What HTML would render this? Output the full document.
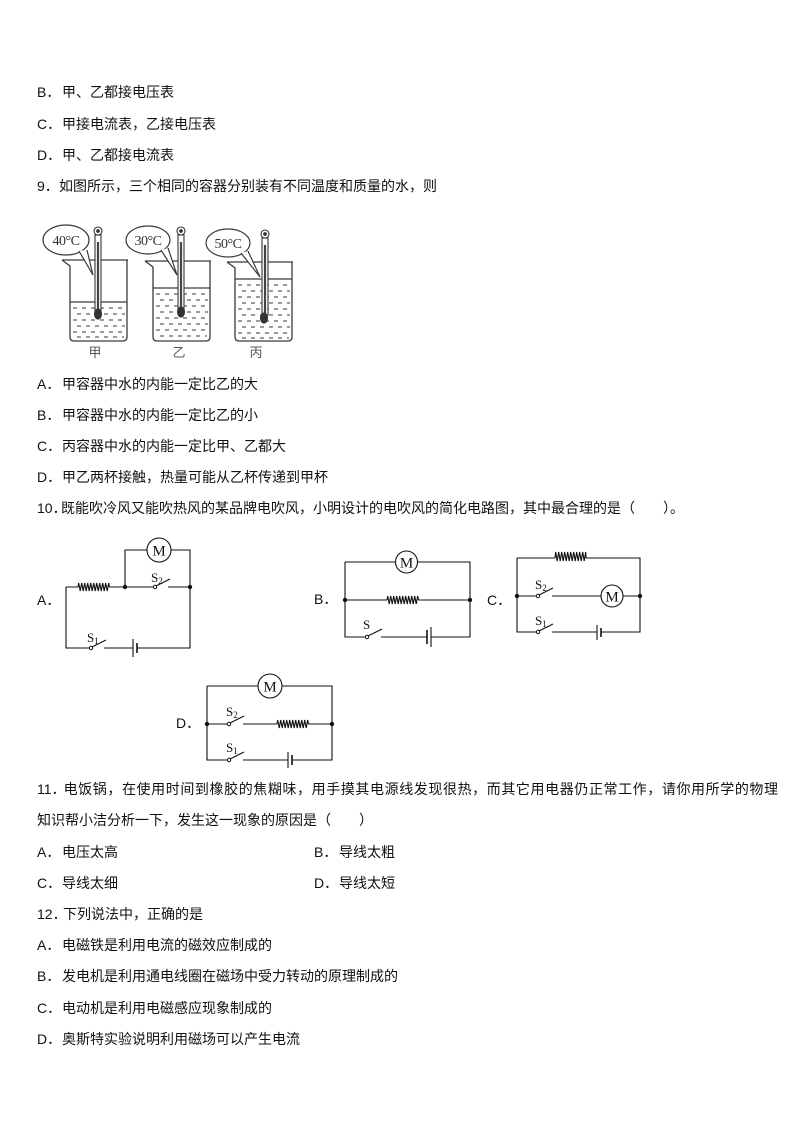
<!DOCTYPE html>
<html lang="zh">
<head>
<meta charset="utf-8">
<style>
  html,body{margin:0;padding:0;background:#fff;}
  body{width:794px;height:1123px;position:relative;overflow:hidden;
       font-family:"Liberation Sans","Noto Sans CJK SC",sans-serif;color:#111;}
  .t{position:absolute;left:37px;font-size:14px;line-height:20px;white-space:nowrap;}
  .l{display:inline-block;white-space:nowrap;}
  .j{white-space:normal;width:741px;text-align:justify;text-align-last:justify;text-justify:inter-character;}
  svg{position:absolute;left:0;top:0;}
</style>
</head>
<body>

<div class="t" style="top:82px"><span class="l" style="width:25px">B．</span>甲、乙都接电压表</div>
<div class="t" style="top:114px"><span class="l" style="width:25px">C．</span>甲接电流表，乙接电压表</div>
<div class="t" style="top:145px"><span class="l" style="width:25px">D．</span>甲、乙都接电流表</div>
<div class="t" style="top:176px"><span class="l" style="width:22px">9．</span>如图所示，三个相同的容器分别装有不同温度和质量的水，则</div>

<div class="t" style="top:374px"><span class="l" style="width:25px">A．</span>甲容器中水的内能一定比乙的大</div>
<div class="t" style="top:405px"><span class="l" style="width:25px">B．</span>甲容器中水的内能一定比乙的小</div>
<div class="t" style="top:436px"><span class="l" style="width:25px">C．</span>丙容器中水的内能一定比甲、乙都大</div>
<div class="t" style="top:467px"><span class="l" style="width:25px">D．</span>甲乙两杯接触，热量可能从乙杯传递到甲杯</div>
<div class="t" style="top:498px"><span class="l" style="width:24px">10．</span>既能吹冷风又能吹热风的某品牌电吹风，小明设计的电吹风的简化电路图，其中最合理的是（　　）。</div>

<div class="t" style="top:590px"><span class="l">A．</span></div>
<div class="t" style="top:589px;left:314px"><span class="l">B．</span></div>
<div class="t" style="top:590px;left:487px"><span class="l">C．</span></div>
<div class="t" style="top:713px;left:176px"><span class="l">D．</span></div>

<div class="t j" style="top:779px"><span class="l" style="width:26px">11．</span>电饭锅，在使用时间到橡胶的焦糊味，用手摸其电源线发现很热，而其它用电器仍正常工作，请你用所学的物理</div>
<div class="t" style="top:810px">知识帮小洁分析一下，发生这一现象的原因是（　　）</div>
<div class="t" style="top:842px"><span class="l" style="width:25px">A．</span>电压太高</div>
<div class="t" style="top:842px;left:314px"><span class="l" style="width:25px">B．</span>导线太粗</div>
<div class="t" style="top:873px"><span class="l" style="width:25px">C．</span>导线太细</div>
<div class="t" style="top:873px;left:314px"><span class="l" style="width:25px">D．</span>导线太短</div>

<div class="t" style="top:904px"><span class="l" style="width:26px">12．</span>下列说法中，正确的是</div>
<div class="t" style="top:935px"><span class="l" style="width:25px">A．</span>电磁铁是利用电流的磁效应制成的</div>
<div class="t" style="top:966px"><span class="l" style="width:25px">B．</span>发电机是利用通电线圈在磁场中受力转动的原理制成的</div>
<div class="t" style="top:998px"><span class="l" style="width:25px">C．</span>电动机是利用电磁感应现象制成的</div>
<div class="t" style="top:1029px"><span class="l" style="width:25px">D．</span>奥斯特实验说明利用磁场可以产生电流</div>

<svg width="794" height="1123" viewBox="0 0 794 1123" xmlns="http://www.w3.org/2000/svg">
  <!-- ================= Beakers ================= -->
  <g fill="none" stroke="#3a3a3a" stroke-width="1.3">
    <!-- 甲 -->
    <path d="M62 260 H128 M62 260 L70 266 V337 Q70 341 74 341 H123 Q127 341 127 337 V260"/>
    <path d="M70 302 H127"/>
    <g stroke-dasharray="4 5" stroke-width="1.1">
      <path d="M73 308 H125"/><path d="M77 314 H125" /><path d="M73 320 H125"/>
      <path d="M77 326 H125"/><path d="M73 332 H125"/><path d="M77 337 H124"/>
    </g>
    <!-- 乙 -->
    <path d="M145 261 H211 M145 261 L153 267 V337 Q153 341 157 341 H206 Q210 341 210 337 V261"/>
    <path d="M153 288 H210"/>
    <g stroke-dasharray="4 5" stroke-width="1.1">
      <path d="M156 294 H208"/><path d="M160 300 H208"/><path d="M156 306 H208"/>
      <path d="M160 312 H208"/><path d="M156 318 H208"/><path d="M160 324 H208"/>
      <path d="M156 330 H208"/><path d="M160 336 H207"/>
    </g>
    <!-- 丙 -->
    <path d="M227 262 H293 M227 262 L235 268 V337 Q235 341 239 341 H288 Q292 341 292 337 V262"/>
    <path d="M235 279 H292"/>
    <g stroke-dasharray="4 5" stroke-width="1.1">
      <path d="M238 285 H290"/><path d="M242 291 H290"/><path d="M238 297 H290"/>
      <path d="M242 303 H290"/><path d="M238 309 H290"/><path d="M242 315 H290"/>
      <path d="M238 321 H290"/><path d="M242 327 H290"/><path d="M238 333 H290"/>
      <path d="M242 338 H289"/>
    </g>
  </g>

  <!-- bubbles -->
  <g stroke="#3a3a3a" stroke-width="1.2">
    <ellipse cx="66" cy="240" rx="23" ry="15" fill="#fff"/>
    <polygon points="79,251 93,275 86,250" fill="#fff" stroke="none"/>
    <path d="M79 251 L93 275 L87 250" fill="none"/>
    <ellipse cx="148" cy="240" rx="22" ry="14" fill="#fff"/>
    <polygon points="161,250 177,275 168,248" fill="#fff" stroke="none"/>
    <path d="M161 250 L177 275 L168 248" fill="none"/>
    <ellipse cx="228" cy="243" rx="22" ry="14" fill="#fff"/>
    <polygon points="241,253 260,277 248,251" fill="#fff" stroke="none"/>
    <path d="M241 253 L260 277 L248 251" fill="none"/>
  </g>
  <g font-family="Liberation Serif, serif" font-size="14" fill="#333" text-anchor="middle" letter-spacing="-0.5">
    <text x="66" y="245">40°C</text>
    <text x="148" y="245">30°C</text>
    <text x="228" y="248">50°C</text>
  </g>

  <!-- thermometers -->
  <g stroke="#333" stroke-width="1.1">
    <rect x="95" y="235" width="6" height="76" fill="#fff"/>
    <line x1="98" y1="242" x2="98" y2="311" stroke-width="2.2" stroke="#444"/>
    <circle cx="98" cy="231" r="4" fill="#fff"/>
    <circle cx="98" cy="231" r="1.3" fill="#333"/>
    <ellipse cx="98" cy="314" rx="3.5" ry="5" fill="#333"/>

    <rect x="178" y="235" width="6" height="74" fill="#fff"/>
    <line x1="181" y1="242" x2="181" y2="309" stroke-width="2.2" stroke="#444"/>
    <circle cx="181" cy="231" r="4" fill="#fff"/>
    <circle cx="181" cy="231" r="1.3" fill="#333"/>
    <ellipse cx="181" cy="312" rx="3.5" ry="5" fill="#333"/>

    <rect x="262" y="238" width="6" height="77" fill="#fff"/>
    <line x1="265" y1="245" x2="265" y2="315" stroke-width="2.2" stroke="#444"/>
    <circle cx="265" cy="234" r="4" fill="#fff"/>
    <circle cx="265" cy="234" r="1.3" fill="#333"/>
    <ellipse cx="264" cy="318" rx="3.5" ry="5" fill="#333"/>
  </g>
  <g font-family="Noto Sans CJK SC, sans-serif" font-size="13" fill="#555" text-anchor="middle">
    <text x="95" y="357">甲</text>
    <text x="179" y="357">乙</text>
    <text x="256" y="357">丙</text>
  </g>

  <!-- ================= Circuits ================= -->
  <g fill="none" stroke="#111" stroke-width="1.1">
    <!-- A -->
    <path d="M66 587 H78 M109.5 587 H155 M168 587 H190 V648 H137 M133 648 H104 M91 648 H66 V587 M125 587 V550 H147 M171 550 H190 V587"/>
    <path d="M78 587 L78.7 583 l1.5 8 l1.5 -8 l1.5 8 l1.5 -8 l1.5 8 l1.5 -8 l1.5 8 l1.5 -8 l1.5 8 l1.5 -8 l1.5 8 l1.5 -8 l1.5 8 l1.5 -8 l1.5 8 l1.5 -8 l1.5 8 l1.5 -8 l1.5 8 l1.5 -8 L109.5 587"/>
    <path d="M156 586 L170 579 M92 647 L106 640"/>
    <path d="M133 639 V657"/>
    <path d="M137 643 V653" stroke-width="1.6"/>
    <circle cx="159" cy="550" r="12" fill="#fff"/>

    <!-- B -->
    <path d="M345 562 V637 H367 M381 637 H427 M431 637 H470 V562 H417.5 M395.5 562 H345 M345 600 H387 M418.5 600 H470"/>
    <path d="M387 600 L387.7 596 l1.5 8 l1.5 -8 l1.5 8 l1.5 -8 l1.5 8 l1.5 -8 l1.5 8 l1.5 -8 l1.5 8 l1.5 -8 l1.5 8 l1.5 -8 l1.5 8 l1.5 -8 l1.5 8 l1.5 -8 l1.5 8 l1.5 -8 l1.5 8 l1.5 -8 L418.5 600"/>
    <path d="M368 636 L382 629"/>
    <path d="M427 630 V644" stroke-width="1.6"/>
    <path d="M431 627 V647"/>
    <circle cx="406.5" cy="562" r="11" fill="#fff"/>

    <!-- C -->
    <path d="M517 558 V632 H538 M552 632 H597 M601 632 H640 V558 H586 M555 558 H517 M517 596 H538 M552 596 H601 M623 596 H640"/>
    <path d="M555 558 L555.7 552 l1.5 9 l1.5 -9 l1.5 9 l1.5 -9 l1.5 9 l1.5 -9 l1.5 9 l1.5 -9 l1.5 9 l1.5 -9 l1.5 9 l1.5 -9 l1.5 9 l1.5 -9 l1.5 9 l1.5 -9 l1.5 9 l1.5 -9 l1.5 9 l1.5 -9 L586 558"/>
    <path d="M539 595 L553 588 M539 631 L553 624"/>
    <path d="M597 625 V640"/>
    <path d="M601 628 V637" stroke-width="1.6"/>
    <circle cx="612" cy="596" r="11" fill="#fff"/>

    <!-- D -->
    <path d="M207 686 V760 H229 M243 760 H288 M292 760 H332 V686 H282 M258 686 H207 M207 724 H229 M243 724 H277 M308.5 724 H332"/>
    <path d="M277 724 L277.7 720 l1.5 8 l1.5 -8 l1.5 8 l1.5 -8 l1.5 8 l1.5 -8 l1.5 8 l1.5 -8 l1.5 8 l1.5 -8 l1.5 8 l1.5 -8 l1.5 8 l1.5 -8 l1.5 8 l1.5 -8 l1.5 8 l1.5 -8 l1.5 8 l1.5 -8 L308.5 724"/>
    <path d="M230 723 L244 716 M230 759 L244 752"/>
    <path d="M288 752 V768"/>
    <path d="M292 755 V765" stroke-width="1.6"/>
    <circle cx="270" cy="686" r="12" fill="#fff"/>
  </g>

  <!-- switch pivots -->
  <g fill="#fff" stroke="#111" stroke-width="1">
    <circle cx="155" cy="587" r="1.7"/><circle cx="91" cy="648" r="1.7"/>
    <circle cx="367" cy="637" r="1.7"/>
    <circle cx="538" cy="596" r="1.7"/><circle cx="538" cy="632" r="1.7"/>
    <circle cx="229" cy="724" r="1.7"/><circle cx="229" cy="760" r="1.7"/>
  </g>
  <!-- junction nodes -->
  <g fill="#111">
    <circle cx="125" cy="587" r="2.2"/><circle cx="190" cy="587" r="2.2"/>
    <circle cx="345" cy="600" r="2.2"/><circle cx="470" cy="600" r="2.2"/>
    <circle cx="517" cy="596" r="2.2"/><circle cx="640" cy="596" r="2.2"/>
    <circle cx="207" cy="724" r="2.2"/><circle cx="332" cy="724" r="2.2"/>
  </g>

  <!-- M labels -->
  <g font-family="Liberation Serif, serif" font-size="15" fill="#111" text-anchor="middle">
    <text x="159" y="555.5">M</text>
    <text x="406.5" y="567.5">M</text>
    <text x="612" y="601.5">M</text>
    <text x="270" y="691.5">M</text>
  </g>
  <!-- S labels -->
  <g font-family="Liberation Serif, serif" font-size="13" fill="#111">
    <text x="151" y="582">S<tspan font-size="9" dy="2">2</tspan></text>
    <text x="87" y="642">S<tspan font-size="9" dy="2">1</tspan></text>
    <text x="363" y="629">S</text>
    <text x="535" y="589">S<tspan font-size="9" dy="2">2</tspan></text>
    <text x="535" y="625">S<tspan font-size="9" dy="2">1</tspan></text>
    <text x="226" y="716">S<tspan font-size="9" dy="2">2</tspan></text>
    <text x="226" y="752">S<tspan font-size="9" dy="2">1</tspan></text>
  </g>
</svg>
</body>
</html>
